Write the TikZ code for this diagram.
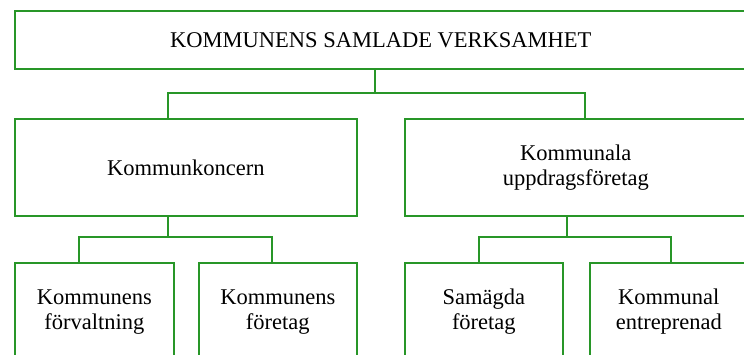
\documentclass[tikz,border=0pt]{standalone}
\usepackage{fontspec}
\setmainfont{Liberation Serif}
\usetikzlibrary{positioning}
\definecolor{boxgreen}{RGB}{40,150,40}
\tikzset{
  orgbox/.style={draw=boxgreen, line width=1.7pt, rectangle, anchor=north west,
    align=center, inner sep=0pt, font=\fontsize{22.5}{25}\selectfont},
  link/.style={draw=boxgreen, line width=1.7pt}
}

\begin{document}
\begin{tikzpicture}[x=1pt, y=-1pt]
\useasboundingbox (0,0) rectangle (744,354);

\node[orgbox, minimum width=732pt, minimum height=58pt] (top) at (14,10) {KOMMUNENS SAMLADE VERKSAMHET};

\node[orgbox, minimum width=342pt, minimum height=97pt] (kk) at (14,118) {Kommunkoncern};
\node[orgbox, minimum width=342pt, minimum height=97pt] (uf) at (404,118) {Kommunala\\uppdragsföretag};

\node[orgbox, minimum width=159pt, minimum height=98pt] (kf) at (14,262) {Kommunens\\förvaltning};
\node[orgbox, minimum width=158pt, minimum height=98pt] (kfo) at (198,262) {Kommunens\\företag};
\node[orgbox, minimum width=158pt, minimum height=98pt] (sf) at (404,262) {Samägda\\företag};
\node[orgbox, minimum width=158pt, minimum height=98pt] (ke) at (589,262) {Kommunal\\entreprenad};

\coordinate (b1) at (375,93);
\coordinate (b1l) at (168,93);
\coordinate (b1r) at (585,93);
\coordinate (b2) at (168,237);
\coordinate (b2l) at (79,237);
\coordinate (b2r) at (272,237);
\coordinate (b3) at (567,237);
\coordinate (b3l) at (479,237);
\coordinate (b3r) at (671,237);

\draw[link] (top.south -| b1) -- (b1);
\draw[link] (kk.north -| b1l) -- (b1l) -- (b1r) -- (uf.north -| b1r);

\draw[link] (kk.south -| b2) -- (b2);
\draw[link] (kf.north -| b2l) -- (b2l) -- (b2r) -- (kfo.north -| b2r);

\draw[link] (uf.south -| b3) -- (b3);
\draw[link] (sf.north -| b3l) -- (b3l) -- (b3r) -- (ke.north -| b3r);

\end{tikzpicture}
\end{document}
